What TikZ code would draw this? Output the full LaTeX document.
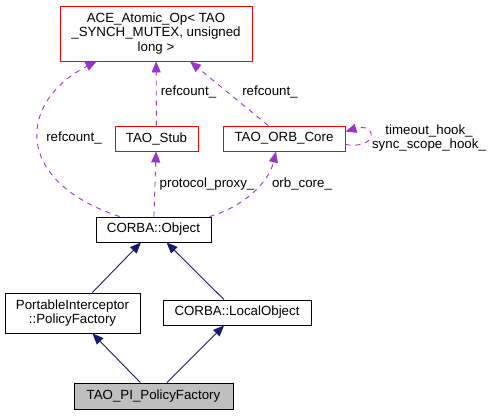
\documentclass[tikz,border=0pt]{standalone}
\usepackage{fontspec}
\setmainfont{Liberation Sans}
\usepackage{tikz}
\usetikzlibrary{arrows.meta,calc,positioning}
\definecolor{orchid}{HTML}{9A32CD}
\definecolor{midblue}{HTML}{191970}
\definecolor{grey75}{HTML}{BFBFBF}
\begin{document}
\begin{tikzpicture}[x=1bp,y=-1bp,font=\fontsize{13.3bp}{14.5bp}\selectfont,
  cls/.style={draw=black,line width=0.9bp,inner sep=0pt,align=center},
  usedcls/.style={cls,draw=red},
  dep/.style={-{Triangle[length=11bp,width=9bp]},orchid,line width=0.9bp,dash pattern=on 5bp off 5bp},
  inh/.style={-{Triangle[length=11bp,width=9bp]},midblue,line width=0.9bp},
  lbl/.style={inner sep=0pt,align=center}]
\useasboundingbox (0,0) rectangle (493,415);
\node (ace) at (156,33.5)[usedcls,minimum width=192bp,minimum height=55bp] {ACE\_Atomic\_Op< TAO\hspace{28bp}\\\_SYNCH\_MUTEX, unsigned\\long >};
\node (stub) at (156.5,138.5)[usedcls,minimum width=83bp,minimum height=25bp] {TAO\_Stub};
\node (orb) at (284,138.5)[usedcls,minimum width=122bp,minimum height=25bp] {TAO\_ORB\_Core};
\node (obj) at (153.5,229.5)[cls,minimum width=115bp,minimum height=25bp] {CORBA::Object};
\node (pif) at (72.5,313)[cls,minimum width=135bp,minimum height=40bp] {PortableInterceptor\\::PolicyFactory};
\node (lobj) at (237,312.5)[cls,minimum width=148bp,minimum height=25bp] {CORBA::LocalObject};
\node (pi) at (153.5,396)[cls,fill=grey75,minimum width=159bp,minimum height=26bp] {TAO\_PI\_PolicyFactory};
% labels
\node (lref1) at (74,138)[lbl] {refcount\_};
\node (lref2) at (188.5,92)[lbl] {refcount\_};
\node (lref3) at (270,92)[lbl] {refcount\_};
\node (lproxy) at (207,184)[lbl] {protocol\_proxy\_};
\node (lcore) at (302,184)[lbl] {orb\_core\_};
\node (lhook) at (429,138)[lbl] {timeout\_hook\_\\sync\_scope\_hook\_};
% uses
\draw[dep] ($(obj.north west)+(24,0)$) .. controls (10,180) and (20,100) .. ($(ace.south west)+(37,0)$);
\draw[dep] (stub) -- (ace);
\draw[dep] (orb) -- (ace);
\draw[dep] (obj) -- (stub);
\draw[dep] ($(obj.north east)+(-2,0)$) .. controls (240,208) and (268,185) .. ($(orb.south)+(-8,0)$);
\draw[dep] ($(orb.east)+(0,6)$) .. controls (378,150) and (378,122) .. ($(orb.east)+(0,-7)$);
% inheritance
\draw[inh] (pif) -- (obj);
\draw[inh] (lobj) -- (obj);
\draw[inh] (pi) -- (pif);
\draw[inh] (pi) -- (lobj);
\end{tikzpicture}
\end{document}
